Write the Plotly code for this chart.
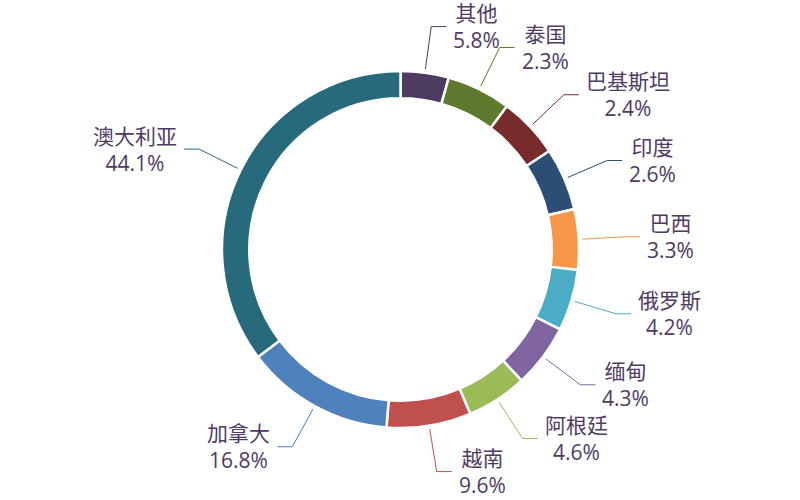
import math

import plotly.graph_objects as go

# slices clockwise from 12 o'clock
countries = ["其他", "泰国", "巴基斯坦", "印度", "巴西", "俄罗斯", "缅甸", "阿根廷", "越南", "加拿大", "澳大利亚"]
# share labels shown on the chart (%)
shares = [5.8, 2.3, 2.4, 2.6, 3.3, 4.2, 4.3, 4.6, 9.6, 16.8, 44.1]
# drawn arc of each slice (degrees) - small slices are drawn with a minimum angle
arc_deg = [15.7, 20.9, 19.9, 20.4, 19.7, 20.0, 20.7, 19.7, 27.5, 48.5, 127.0]
colors = ["#4E3B62", "#5E7A2F", "#772B2B", "#2C4D75", "#F79646", "#4BACC6",
          "#8064A2", "#9BBB59", "#C0504D", "#4F81BD", "#276A7C"]

W, H = 800, 500
CX, CY = 400.5, 249.5
R_OUT = 178.5
HOLE = 0.847
TEXT_COLOR = "#4F3B63"
FONT = "Segoe UI, Open Sans, Noto Sans CJK SC, sans-serif"

fig = go.Figure()

fig.add_trace(go.Pie(
    labels=countries,
    values=arc_deg,
    sort=False,
    direction="clockwise",
    rotation=0,
    hole=HOLE,
    textinfo="none",
    marker=dict(colors=colors, line=dict(color="white", width=2.5)),
    domain=dict(x=[(CX - R_OUT) / W, (CX + R_OUT) / W],
                y=[1 - (CY + R_OUT) / H, 1 - (CY - R_OUT) / H]),
    showlegend=False,
    hoverinfo="label",
))

# leader lines + labels, placed from each slice's mid angle
total = sum(arc_deg)
start = 0.0
for name, pct, arc, col in zip(countries, shares, arc_deg, colors):
    mid = math.radians((start + arc / 2) / total * 360)
    start += arc
    sx, sy = math.sin(mid), -math.cos(mid)
    x0, y0 = CX + sx * 182, CY + sy * 182
    x1, y1 = CX + sx * 225, CY + sy * 225
    side = 1 if sx >= 0 else -1
    x2 = x1 + side * 15
    fig.add_trace(go.Scatter(
        x=[x0, x1, x2], y=[y0, y1, y1], mode="lines",
        line=dict(color=col, width=1), hoverinfo="skip", showlegend=False,
    ))
    fig.add_annotation(
        x=x2 + side * 5, y=y1, xref="x", yref="y",
        text=f"{name}<br>{pct:.1f}%",
        showarrow=False,
        xanchor="left" if side > 0 else "right", yanchor="middle", align="center",
        font=dict(size=21, color=TEXT_COLOR, family=FONT),
    )

fig.update_layout(
    width=W,
    height=H,
    margin=dict(l=0, r=0, t=0, b=0),
    paper_bgcolor="white",
    plot_bgcolor="rgba(0,0,0,0)",
    xaxis=dict(range=[0, W], visible=False, fixedrange=True),
    yaxis=dict(range=[H, 0], visible=False, fixedrange=True),
    font=dict(family=FONT),
)

fig.write_html("out.html", config={"displayModeBar": False},
               post_script="document.body.style.margin='0';")
